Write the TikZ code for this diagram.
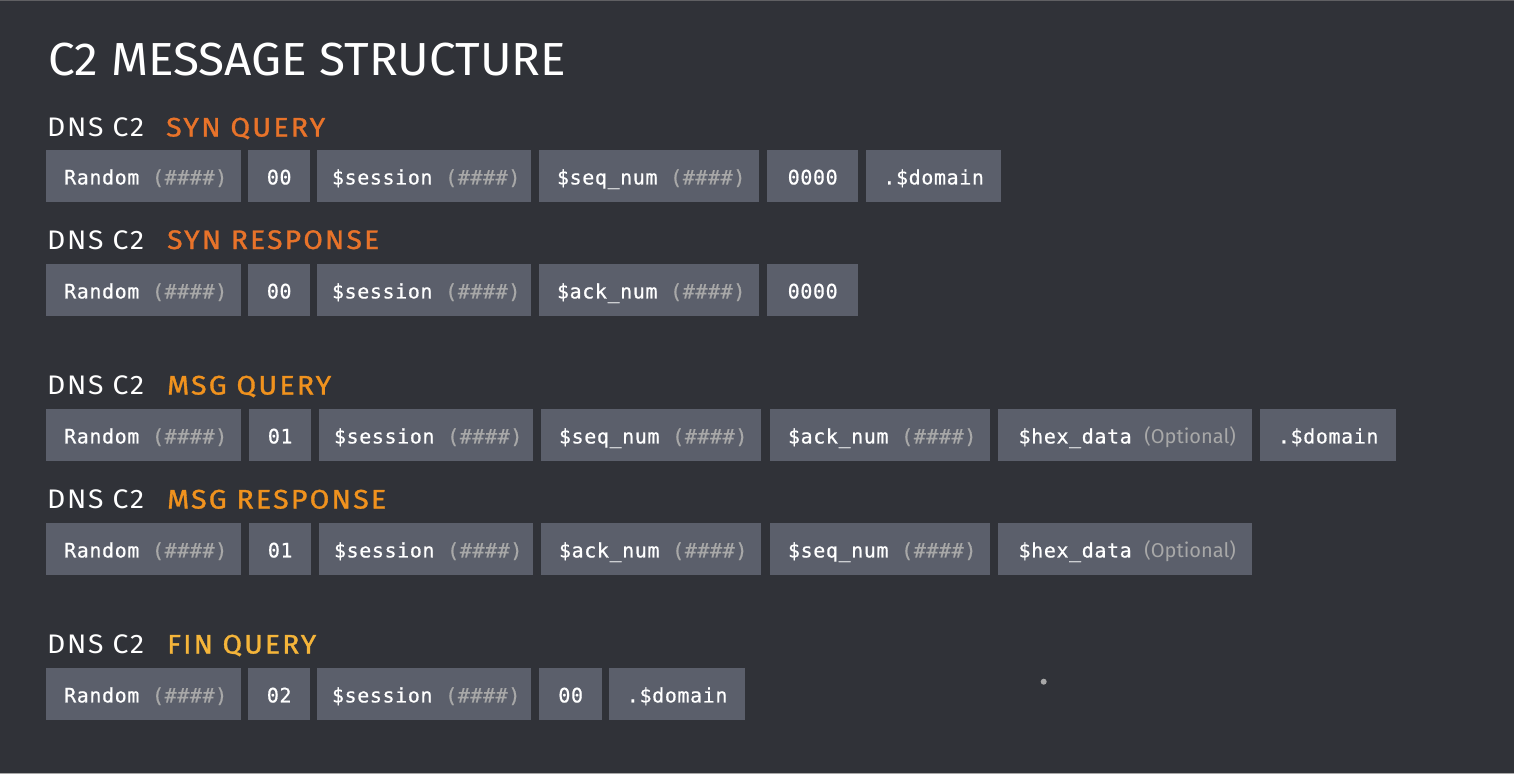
\documentclass[tikz,border=0pt]{standalone}
\usepackage{fontspec}
\usepackage{graphicx}
\setmainfont{Fira Sans}
\newfontfamily\hfont[LetterSpace=6]{Fira Sans}
\newfontfamily\hbold[LetterSpace=8,FakeBold=1.2]{Fira Sans}
\newfontfamily\monof[LetterSpace=3,FakeBold=0.6]{DejaVu Sans Mono}
\definecolor{bgc}{HTML}{303238}
\definecolor{boxc}{HTML}{5B5F6B}
\definecolor{grayt}{HTML}{A8A8A8}
\definecolor{sync}{HTML}{E8732A}
\definecolor{msgc}{HTML}{F0921E}
\definecolor{finc}{HTML}{F5B53A}
\newcommand{\hs}[1]{\textcolor{grayt}{#1}}
\newcommand{\opt}{\textcolor{grayt}{\fontspec{Fira Sans}\fontsize{20}{20}\selectfont(Optional)}}
\begin{document}
\begin{tikzpicture}[x=1pt,y=-1pt,
  fld/.style={fill=boxc, inner sep=0pt, minimum height=51.5pt, anchor=north west,
    text height=17pt, text depth=0pt,
    text=white, font=\monof\fontsize{20}{20}\selectfont},
  hd/.style={anchor=base west, inner sep=0pt, text=white},
  ttl/.style={anchor=base west, inner sep=0pt, text=white}]
\fill[bgc] (0,0) rectangle (1514,774);
\fill[gray!60!bgc] (0,0) rectangle (1514,1.2);
\fill[grayt] (0,772.8) rectangle (1514,774);
\useasboundingbox (0,0) rectangle (1514,774);

% title
\node[ttl] (title) at (48,75.5) {\resizebox{518pt}{32.5pt}{\fontsize{46}{46}\selectfont C2 MESSAGE STRUCTURE}};

% headings
\newcommand{\dns}{\resizebox{97pt}{18.8pt}{\hfont\fontsize{27}{27}\selectfont DNS C2}}
\node[hd] (h1a) at (47,136.5) {\dns};
\node[hd, text=sync] (h1b) at (166,136.5) {\resizebox{159pt}{18.8pt}{\hbold\fontsize{27}{27}\selectfont SYN QUERY}};
\node[hd] (h2a) at (47,249) {\dns};
\node[hd, text=sync] (h2b) at (167,249) {\resizebox{212pt}{18.8pt}{\hbold\fontsize{27}{27}\selectfont SYN RESPONSE}};
\node[hd] (h3a) at (47,394.5) {\dns};
\node[hd, text=msgc] (h3b) at (167,394.5) {\resizebox{164pt}{18.8pt}{\hbold\fontsize{27}{27}\selectfont MSG QUERY}};
\node[hd] (h4a) at (47,508.5) {\dns};
\node[hd, text=msgc] (h4b) at (167,508.5) {\resizebox{219pt}{18.8pt}{\hbold\fontsize{27}{27}\selectfont MSG RESPONSE}};
\node[hd] (h5a) at (47,653.5) {\dns};
\node[hd, text=finc] (h5b) at (167,653.5) {\resizebox{149pt}{18.8pt}{\hbold\fontsize{27}{27}\selectfont FIN QUERY}};

% row 1: SYN QUERY
\node[fld, minimum width=195pt] (a1) at (46,150) {\hspace*{4pt}Random \hs{(\#\#\#\#)}};
\node[fld, minimum width=62pt]  (a2) at (248,150) {00};
\node[fld, minimum width=214pt] (a3) at (317,150) {\hspace*{4pt}\$session \hs{(\#\#\#\#)}};
\node[fld, minimum width=220pt] (a4) at (539,150) {\hspace*{4pt}\$seq\_num \hs{(\#\#\#\#)}};
\node[fld, minimum width=91pt]  (a5) at (767,150) {0000};
\node[fld, minimum width=135pt] (a6) at (866,150) {.\$domain};

% row 2: SYN RESPONSE
\node[fld, minimum width=195pt] (b1) at (46,264) {\hspace*{4pt}Random \hs{(\#\#\#\#)}};
\node[fld, minimum width=62pt]  (b2) at (248,264) {00};
\node[fld, minimum width=214pt] (b3) at (317,264) {\hspace*{4pt}\$session \hs{(\#\#\#\#)}};
\node[fld, minimum width=220pt] (b4) at (539,264) {\hspace*{4pt}\$ack\_num \hs{(\#\#\#\#)}};
\node[fld, minimum width=91pt]  (b5) at (767,264) {0000};

% row 3: MSG QUERY
\node[fld, minimum width=195pt] (c1) at (46,409) {\hspace*{4pt}Random \hs{(\#\#\#\#)}};
\node[fld, minimum width=62pt]  (c2) at (249,409) {01};
\node[fld, minimum width=214pt] (c3) at (319,409) {\hspace*{4pt}\$session \hs{(\#\#\#\#)}};
\node[fld, minimum width=220pt] (c4) at (541,409) {\hspace*{4pt}\$seq\_num \hs{(\#\#\#\#)}};
\node[fld, minimum width=220pt] (c5) at (770,409) {\hspace*{4pt}\$ack\_num \hs{(\#\#\#\#)}};
\node[fld, minimum width=254pt] (c6) at (998,409) {\hspace*{4pt}\$hex\_data \opt};
\node[fld, minimum width=136pt] (c7) at (1260,409) {.\$domain};

% row 4: MSG RESPONSE
\node[fld, minimum width=195pt] (d1) at (46,523) {\hspace*{4pt}Random \hs{(\#\#\#\#)}};
\node[fld, minimum width=62pt]  (d2) at (249,523) {01};
\node[fld, minimum width=214pt] (d3) at (319,523) {\hspace*{4pt}\$session \hs{(\#\#\#\#)}};
\node[fld, minimum width=220pt] (d4) at (541,523) {\hspace*{4pt}\$ack\_num \hs{(\#\#\#\#)}};
\node[fld, minimum width=220pt] (d5) at (770,523) {\hspace*{4pt}\$seq\_num \hs{(\#\#\#\#)}};
\node[fld, minimum width=254pt] (d6) at (998,523) {\hspace*{4pt}\$hex\_data \opt};

% row 5: FIN QUERY
\node[fld, minimum width=195pt] (e1) at (46,668) {\hspace*{4pt}Random \hs{(\#\#\#\#)}};
\node[fld, minimum width=62pt]  (e2) at (248,668) {02};
\node[fld, minimum width=214pt] (e3) at (317,668) {\hspace*{4pt}\$session \hs{(\#\#\#\#)}};
\node[fld, minimum width=63pt]  (e4) at (539,668) {00};
\node[fld, minimum width=136pt] (e5) at (609,668) {.\$domain};

% stray dot
\fill[grayt] (1043.7,681.7) circle (3pt);
\end{tikzpicture}
\end{document}
